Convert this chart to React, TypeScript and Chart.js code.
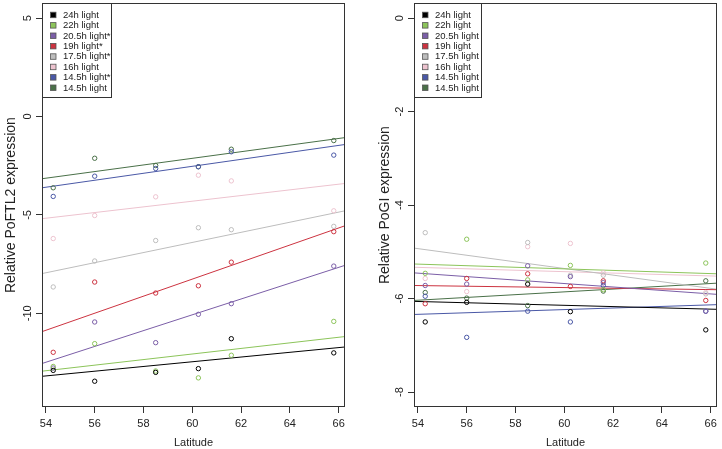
import React, { useEffect, useRef } from "react";
import { Chart, registerables } from "chart.js";
Chart.register(...registerables);

// ---------- categories / ticks ----------
const latitudes = [54.3, 56.0, 58.5, 60.25, 61.6, 65.8];
const xTicks = [54, 56, 58, 60, 62, 64, 66];
const ftl2YTicks = [-10, -5, 0, 5];
const giYTicks = [-8, -6, -4, -2, 0];

const ftl2Names = ["24h light", "22h light", "20.5h light*", "19h light*", "17.5h light*", "16h light", "14.5h light*", "14.5h light"];
const giNames = ["24h light", "22h light", "20.5h light", "19h light", "17.5h light", "16h light", "14.5h light", "14.5h light"];

// ---------- PoFTL2 values (left panel) ----------
const ftl2_24h = [-12.9, -13.45, -13.0, -12.81, -11.29, -12.01];
const ftl2_22h = [-12.7, -11.54, -12.93, -13.28, -12.13, -10.41];
const ftl2_205h = [-12.78, -10.44, -11.49, -10.05, -9.51, -7.6];
const ftl2_19h = [-11.98, -8.41, -8.97, -8.6, -7.4, -5.85];
const ftl2_175h = [-8.66, -7.34, -6.3, -5.65, -5.75, -5.58];
const ftl2_16h = [-6.2, -5.03, -4.08, -2.98, -3.27, -4.79];
const ftl2_145hStar = [-4.06, -3.03, -2.64, -2.55, -1.79, -1.96];
const ftl2_145h = [-3.62, -2.12, -2.49, -2.55, -1.66, -1.22];
// fitted line values at the left and right edge of the latitude range
const ftl2FitStart = [-13.2, -12.94, -12.55, -10.93, -7.98, -5.19, -3.62, -3.16];
const ftl2FitEnd = [-11.71, -11.18, -7.56, -5.55, -4.79, -3.4, -1.42, -1.07];

// ---------- PoGI values (right panel) ----------
const gi_24h = [-6.5, -6.08, -5.69, -6.28, null, -6.67];
const gi_22h = [-5.46, -4.73, -5.6, -5.29, -5.81, -5.24];
const gi_205h = [-5.72, -5.69, -5.3, -5.53, -5.66, -6.27];
const gi_19h = [-6.11, -5.57, -5.47, -5.74, -5.62, -6.04];
const gi_175h = [-4.59, null, -4.8, -5.5, -5.5, -5.9];
const gi_16h = [-5.57, -5.85, -4.89, -4.82, -5.45, -5.87];
const gi_145hStar = [-5.95, -6.83, -6.27, -6.5, -5.72, -6.27];
const gi_145h = [-5.87, -5.99, -6.15, null, -5.84, -5.62];
const giFitStart = [-6.06, -5.26, -5.45, -5.72, -4.92, -5.33, -6.34, -6.04];
const giFitEnd = [-6.23, -5.47, -5.91, -5.81, -5.8, -5.52, -6.13, -5.67];

// ---------- styling ----------
const seriesColors = ["#000000", "#8CC45A", "#7B5EA7", "#CC3340", "#BDBDBD", "#EDC3CF", "#4A58A6", "#4A7048"];
const xRange = [53.84, 66.26];
const FONT = '"Liberation Sans", Arial, Helvetica, sans-serif';

type PanelCfg = {
  values: (number | null)[][];
  fitStart: number[];
  fitEnd: number[];
  names: string[];
  yTicks: number[];
  yMin: number;
  yMax: number;
  yTitle: string;
  yAxisWidth: number;
  padRight: number;
  titleX: number;
  legendWidth: number;
};

function buildDatasets(cfg: PanelCfg) {
  const ds: any[] = [];
  seriesColors.forEach((c, i) => {
    ds.push({
      label: cfg.names[i],
      data: latitudes
        .map((x, j) => (cfg.values[i][j] == null ? null : { x, y: cfg.values[i][j] }))
        .filter((p) => p != null),
      showLine: false,
      borderColor: c,
      backgroundColor: "rgba(0,0,0,0)",
      pointRadius: 2.2,
      pointBorderWidth: 1,
      pointHoverRadius: 2.2,
    });
  });
  seriesColors.forEach((c, i) => {
    ds.push({
      label: cfg.names[i] + " fit",
      data: [
        { x: xRange[0], y: cfg.fitStart[i] },
        { x: xRange[1], y: cfg.fitEnd[i] },
      ],
      showLine: true,
      borderColor: c,
      borderWidth: 1,
      pointRadius: 0,
      pointHoverRadius: 0,
      fill: false,
    });
  });
  return ds;
}

function makePlugin(cfg: PanelCfg) {
  return {
    id: "rstyle",
    afterDraw(chart: any) {
      const ctx = chart.ctx;
      const { left, right, top, bottom } = chart.chartArea;
      const xs = chart.scales.x;
      const ys = chart.scales.y;
      ctx.save();
      // box
      ctx.strokeStyle = "#333";
      ctx.lineWidth = 1;
      ctx.strokeRect(Math.round(left) + 0.5, Math.round(top) + 0.5, Math.round(right - left) - 1, Math.round(bottom - top) - 1);
      // x tick labels
      ctx.fillStyle = "#222";
      ctx.font = `11px ${FONT}`;
      ctx.textAlign = "center";
      ctx.textBaseline = "middle";
      xTicks.forEach((v) => ctx.fillText(String(v), xs.getPixelForValue(v), bottom + 16.5));
      // y tick labels (rotated, R style)
      cfg.yTicks.forEach((v) => {
        const y = ys.getPixelForValue(v);
        ctx.save();
        ctx.translate(left - 14, y);
        ctx.rotate(-Math.PI / 2);
        ctx.fillText(String(v), 0, 0);
        ctx.restore();
      });
      // axis titles
      ctx.fillText("Latitude", (left + right) / 2, bottom + 36);
      ctx.save();
      ctx.translate(cfg.titleX, (top + bottom) / 2);
      ctx.rotate(-Math.PI / 2);
      ctx.font = `14px ${FONT}`;
      ctx.fillText(cfg.yTitle, 0, 0);
      ctx.restore();
      // legend
      const lx = Math.round(left) + 0.5;
      const ly = Math.round(top) + 0.5;
      const lh = 94;
      ctx.fillStyle = "#fff";
      ctx.fillRect(lx, ly, cfg.legendWidth, lh);
      ctx.strokeStyle = "#333";
      ctx.strokeRect(lx, ly, cfg.legendWidth, lh);
      ctx.font = `9.5px ${FONT}`;
      ctx.textAlign = "left";
      cfg.names.forEach((name, i) => {
        const cy = top + 11.5 + i * 10.4;
        ctx.fillStyle = seriesColors[i];
        ctx.fillRect(left + 8.5, cy - 2.5, 5.5, 5.5);
        ctx.strokeStyle = "#555";
        ctx.lineWidth = 0.8;
        ctx.strokeRect(left + 8.5, cy - 2.5, 5.5, 5.5);
        ctx.fillStyle = "#222";
        ctx.fillText(name, left + 21, cy + 0.5);
      });
      ctx.restore();
    },
  };
}

function Panel({ cfg, x, width }: { cfg: PanelCfg; x: number; width: number }) {
  const ref = useRef<HTMLCanvasElement | null>(null);
  useEffect(() => {
    if (!ref.current) return;
    const chart = new Chart(ref.current, {
      type: "scatter",
      data: { datasets: buildDatasets(cfg) },
      options: {
        animation: false,
        responsive: false,
        devicePixelRatio: 1,
        layout: { padding: { left: 0, top: 2, right: cfg.padRight, bottom: 0 } },
        plugins: { legend: { display: false }, tooltip: { enabled: false } },
        scales: {
          x: {
            type: "linear",
            min: xRange[0],
            max: xRange[1],
            afterBuildTicks: (s: any) => {
              s.ticks = xTicks.map((v) => ({ value: v }));
            },
            afterFit: (s: any) => {
              s.height = 42;
            },
            ticks: { display: false },
            border: { display: false },
            grid: { display: true, drawOnChartArea: false, drawTicks: true, tickLength: 6, color: "#333", lineWidth: 1 },
          },
          y: {
            type: "linear",
            min: cfg.yMin,
            max: cfg.yMax,
            afterBuildTicks: (s: any) => {
              s.ticks = cfg.yTicks.map((v) => ({ value: v }));
            },
            afterFit: (s: any) => {
              s.width = cfg.yAxisWidth;
            },
            ticks: { display: false },
            border: { display: false },
            grid: { display: true, drawOnChartArea: false, drawTicks: true, tickLength: 6, color: "#333", lineWidth: 1 },
          },
        },
      },
      plugins: [makePlugin(cfg)],
    } as any);
    return () => chart.destroy();
  }, []);
  return (
    <canvas
      ref={ref}
      width={width}
      height={449}
      style={{ position: "absolute", left: x, top: 0, width, height: 449 }}
    />
  );
}

const leftCfg: PanelCfg = {
  values: [ftl2_24h, ftl2_22h, ftl2_205h, ftl2_19h, ftl2_175h, ftl2_16h, ftl2_145hStar, ftl2_145h],
  fitStart: ftl2FitStart,
  fitEnd: ftl2FitEnd,
  names: ftl2Names,
  yTicks: ftl2YTicks,
  yMin: -14.76,
  yMax: 5.76,
  yTitle: "Relative PoFTL2 expression",
  yAxisWidth: 42,
  padRight: 16,
  titleX: 11,
  legendWidth: 69,
};

const rightCfg: PanelCfg = {
  values: [gi_24h, gi_22h, gi_205h, gi_19h, gi_175h, gi_16h, gi_145hStar, gi_145h],
  fitStart: giFitStart,
  fitEnd: giFitEnd,
  names: giNames,
  yTicks: giYTicks,
  yMin: -8.32,
  yMax: 0.32,
  yTitle: "Relative PoGI expression",
  yAxisWidth: 39,
  padRight: 5,
  titleX: 10,
  legendWidth: 67,
};

export default function App() {
  return (
    <div style={{ position: "absolute", left: 0, top: 0, width: 722, height: 449, background: "#fff", overflow: "hidden" }}>
      <Panel cfg={leftCfg} x={0} width={361} />
      <Panel cfg={rightCfg} x={375} width={347} />
    </div>
  );
}
